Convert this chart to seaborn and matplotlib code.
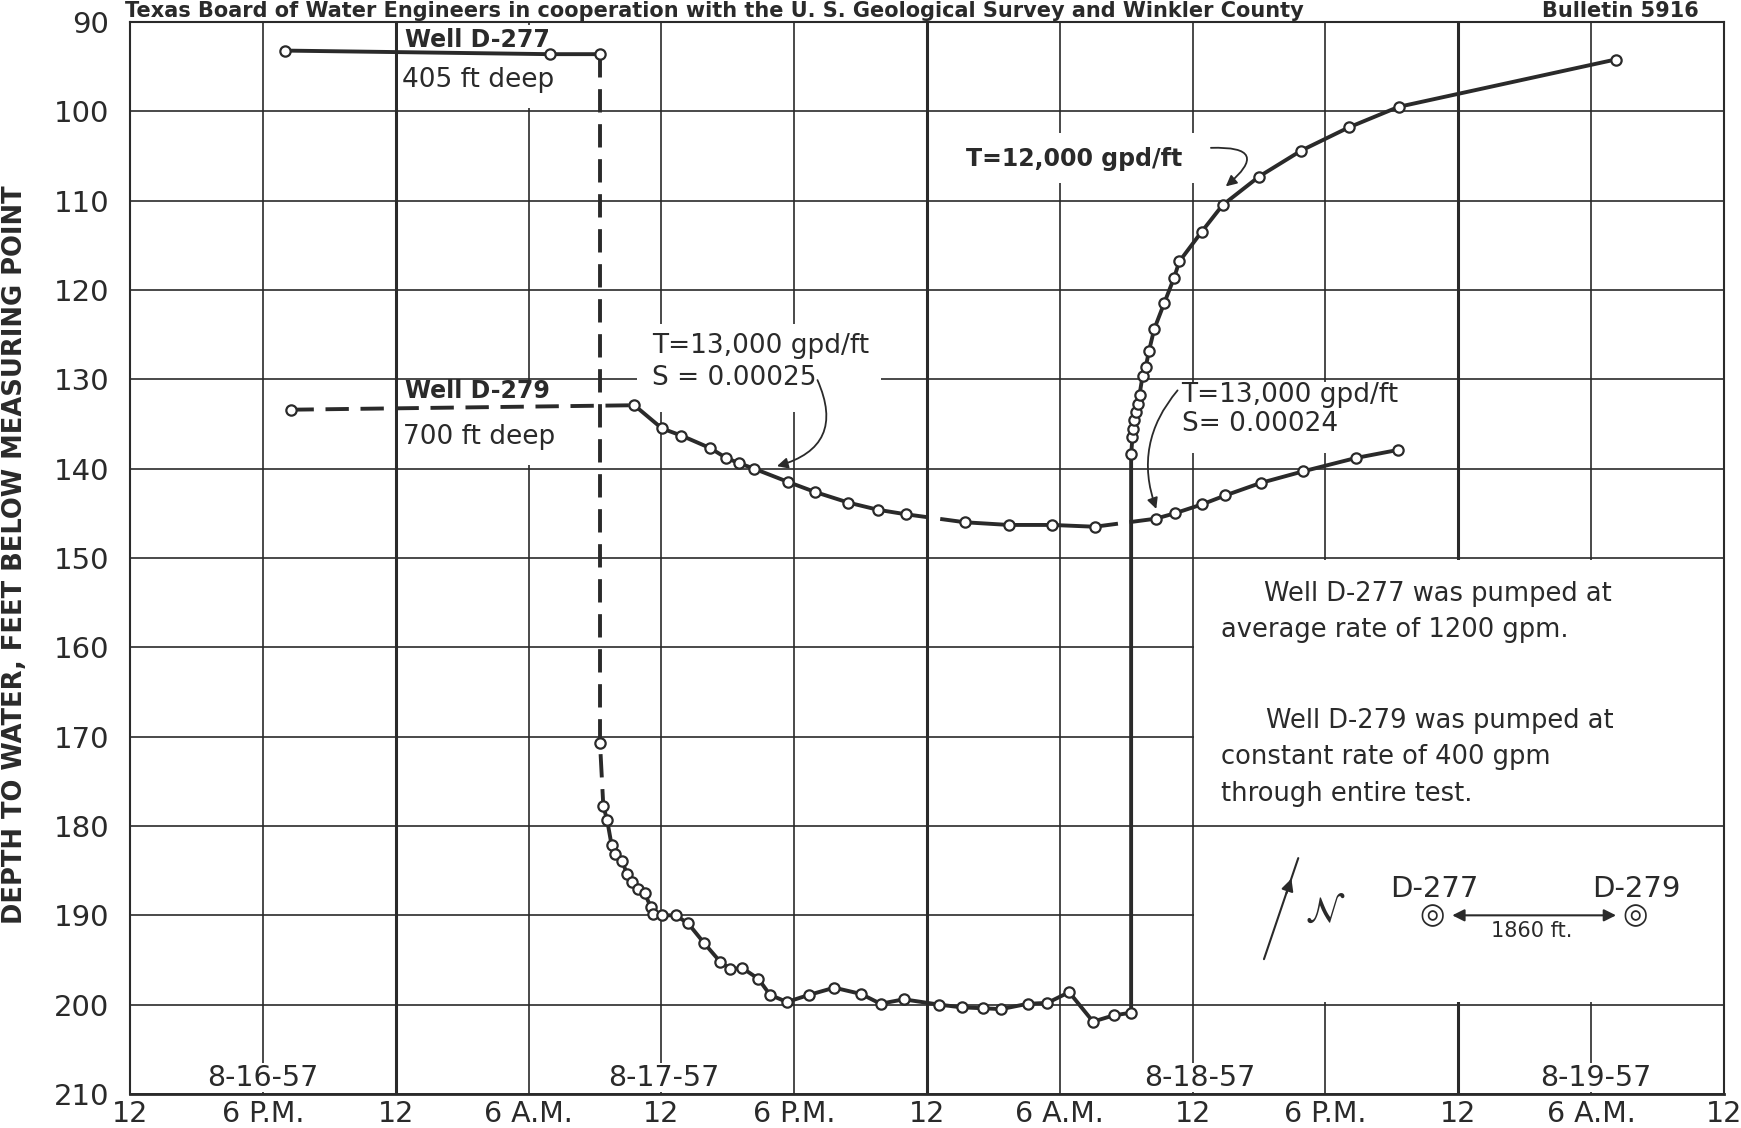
import numpy as np
import pandas as pd
import matplotlib
matplotlib.use("Agg")
import matplotlib.pyplot as plt
import seaborn as sns
from matplotlib.patches import Rectangle

# ---------------- data (hours after 12 noon, 8-16-57 ; depth in feet) ----------------
d277_t = [7.0, 18.95, 21.23, 21.23, 21.38, 21.55, 21.75, 21.89, 22.24, 22.44, 22.66, 22.95,
          23.24, 23.53, 23.63, 24.05, 24.64, 25.21, 25.93, 26.66, 27.11, 27.66, 28.38,
          28.91, 29.67, 30.68, 31.81, 33.02, 33.90, 34.95, 36.56, 37.56, 38.52, 39.35,
          40.55, 41.44, 42.42, 43.50, 44.43, 45.22,
          45.22, 45.28, 45.32, 45.36, 45.42, 45.52, 45.60, 45.74, 45.88, 46.03, 46.26,
          46.71, 47.15, 47.40, 48.40, 49.35, 51.0, 52.9, 55.05, 57.3, 67.1]
d277_depth = [93.2, 93.6, 93.6, 170.7, 177.8, 179.3, 182.1, 183.1, 183.9, 185.4, 186.3, 187.1,
              187.5, 189.1, 189.9, 190.0, 190.0, 190.9, 193.1, 195.2, 196.0, 195.9, 197.1,
              198.9, 199.7, 198.9, 198.1, 198.8, 199.9, 199.4, 200.0, 200.3, 200.4, 200.5,
              199.9, 199.8, 198.6, 201.9, 201.2, 200.9,
              138.4, 136.5, 135.6, 134.6, 133.7, 132.8, 131.7, 129.6, 128.6, 126.8, 124.4,
              121.5, 118.7, 116.8, 113.5, 110.5, 107.3, 104.4, 101.8, 99.5, 94.2]

d279_t = [7.25, 22.78, 24.03, 24.91, 26.21, 26.93, 27.53, 28.19, 29.74, 30.93, 32.45, 33.78,
          35.03, 37.71, 39.69, 41.64, 43.58, 46.33, 47.19, 48.42, 49.47, 51.07, 52.99,
          55.38, 57.28]
d279_depth = [133.4, 132.9, 135.5, 136.3, 137.7, 138.8, 139.4, 140.0, 141.5, 142.6, 143.8,
              144.6, 145.1, 146.0, 146.3, 146.3, 146.5, 145.6, 145.0, 144.0, 143.0, 141.6,
              140.3, 138.8, 137.9]

x_ticks = list(range(0, 73, 6))
x_tick_labels = ["12", "6 P.M.", "12", "6 A.M.", "12", "6 P.M.", "12", "6 A.M.",
                 "12", "6 P.M.", "12", "6 A.M.", "12"]
y_ticks = list(range(90, 211, 10))
date_labels = ["8-16-57", "8-17-57", "8-18-57", "8-19-57"]
date_label_t = [6.0, 24.1, 48.3, 66.2]

# ---------------- style ----------------
INK = "#2a2a2a"
sns.set_theme(style="white")
plt.rcParams["font.family"] = ["DejaVu Sans"]
plt.rcParams["text.color"] = INK

fig = plt.figure(figsize=(17.41, 11.28), dpi=100)
fig.patch.set_facecolor("white")
ax = fig.add_axes([130 / 1741, 34 / 1128, 1594 / 1741, 1072 / 1128])
ax.set_facecolor("white")

# grid
for t in x_ticks:
    lw = 2.2 if t in (12, 36, 60) else 1.2
    ax.axvline(t, color=INK, lw=lw, zorder=1)
for d in y_ticks:
    ax.axhline(d, color=INK, lw=1.2, zorder=1)

# blank areas (lettering backgrounds / notes panel)
blanks = [
    (48.08, 150.25, 72.0, 199.75),
    (12.12, 90.3, 19.6, 99.6),
    (12.12, 130.3, 19.6, 139.6),
    (22.9, 123.8, 33.9, 133.7),
    (37.5, 102.4, 49.3, 108.0),
    (46.6, 130.3, 57.6, 138.2),
]
for x0, y0, x1, y1 in blanks:
    ax.add_patch(Rectangle((x0, y0), x1 - x0, y1 - y0, facecolor="white",
                           edgecolor="none", zorder=2))
# bottom border of the notes panel
ax.hlines(180, 48, 72, color=INK, lw=1.2, zorder=3)


def draw_series(t, depth, dashed_segments):
    df = pd.DataFrame({"t": t, "depth": depth})
    n = len(df)
    runs = []
    start = 0
    style = 0 in dashed_segments
    for i in range(1, n - 1):
        s = i in dashed_segments
        if s != style:
            runs.append((start, i, style))
            start, style = i, s
    runs.append((start, n - 1, style))
    for a, b, dashed in runs:
        seg = df.iloc[a:b + 1]
        sns.lineplot(data=seg, x="t", y="depth", sort=False, estimator=None, ax=ax,
                     color=INK, lw=2.8, zorder=4,
                     linestyle=(0, (6, 3)) if dashed else "-")
    sns.scatterplot(data=df, x="t", y="depth", ax=ax, marker="o", s=55, color="white",
                    edgecolor=INK, linewidth=1.6, zorder=5, legend=False)


draw_series(d277_t, d277_depth, {2, 3})
draw_series(d279_t, d279_depth, {0, 12, 16})

ax.set_xlim(0, 72)
ax.set_ylim(210, 90)
ax.set_xticks(x_ticks)
ax.set_xticklabels(x_tick_labels, fontsize=20.5)
ax.set_yticks(y_ticks)
ax.set_yticklabels([str(v) for v in y_ticks], fontsize=21)
ax.tick_params(axis="x", length=0, pad=4, colors=INK)
ax.tick_params(axis="y", length=0, pad=15, colors=INK)
ax.set_xlabel("")
ax.set_ylabel("DEPTH TO WATER, FEET BELOW MEASURING POINT", fontsize=18.5,
              fontweight="bold", color=INK)
ax.yaxis.set_label_coords(-0.064, 0.503)
for side, sp in ax.spines.items():
    sp.set_visible(True)
    sp.set_color(INK)
    sp.set_linewidth(2.0 if side == "bottom" else 1.5)
    sp.set_zorder(3)

# date labels (white lettering background sits below the frame)
for lab, t in zip(date_labels, date_label_t):
    ax.text(t, 208.2, lab, ha="center", va="center", fontsize=20.5, zorder=2.2,
            bbox=dict(facecolor="white", edgecolor="none", pad=0.5))

# well labels
ax.text(12.4, 92.0, "Well D-277", ha="left", va="center", fontsize=17, fontweight="bold", zorder=6)
ax.text(12.3, 96.5, "405 ft deep", ha="left", va="center", fontsize=19, zorder=6)
ax.text(12.4, 131.3, "Well D-279", ha="left", va="center", fontsize=17, fontweight="bold", zorder=6)
ax.text(12.35, 136.4, "700 ft deep", ha="left", va="center", fontsize=19, zorder=6)

# transmissibility notes
ax.text(23.6, 126.3, "T=13,000 gpd/ft", ha="left", va="center", fontsize=19, zorder=6)
ax.text(23.6, 129.9, "S = 0.00025", ha="left", va="center", fontsize=19, zorder=6)
ax.text(47.5, 131.7, "T=13,000 gpd/ft", ha="left", va="center", fontsize=19, zorder=6)
ax.text(47.5, 135.0, "S= 0.00024", ha="left", va="center", fontsize=19, zorder=6)
ax.text(37.75, 105.3, "T=12,000 gpd/ft", ha="left", va="center", fontsize=17,
        fontweight="bold", zorder=6)

arrow_kw = dict(arrowstyle="-|>", color=INK, lw=1.3, mutation_scale=16)
ax.annotate("", xy=(29.1, 139.8), xytext=(31.0, 129.8),
            arrowprops=dict(connectionstyle="arc3,rad=-0.6", **arrow_kw), zorder=6)
ax.annotate("", xy=(49.4, 108.6), xytext=(48.7, 104.1),
            arrowprops=dict(connectionstyle="arc3,rad=-1.5", **arrow_kw), zorder=6)
ax.annotate("", xy=(46.4, 144.8), xytext=(47.4, 131.0),
            arrowprops=dict(connectionstyle="arc3,rad=0.3", **arrow_kw), zorder=6)

# pumping notes panel
notes = [(51.2, 154.0, "Well D-277 was pumped at"),
         (49.3, 158.1, "average rate of 1200 gpm."),
         (51.3, 168.3, "Well D-279 was pumped at"),
         (49.3, 172.3, "constant rate of 400 gpm"),
         (49.3, 176.4, "through entire test.")]
for t, d, s in notes:
    ax.text(t, d, s, ha="left", va="center", fontsize=18.5, zorder=6)

# north arrow
ax.annotate("", xy=(52.81, 183.3), xytext=(51.18, 195.2),
            arrowprops=dict(arrowstyle="-", color=INK, lw=1.5), zorder=6)
ax.annotate("", xy=(52.5, 185.6), xytext=(52.2, 187.8),
            arrowprops=dict(arrowstyle="-|>", color=INK, lw=1.5, mutation_scale=18), zorder=6)
ax.text(54.0, 189.6, r"$\mathcal{N}$", ha="center", va="center", fontsize=26, zorder=6)

# well location sketch
ax.text(58.9, 187.0, "D-277", ha="center", va="center", fontsize=21, zorder=6)
ax.text(68.05, 187.0, "D-279", ha="center", va="center", fontsize=21, zorder=6)
ax.text(58.83, 190.0, "◎", ha="center", va="center", fontsize=21, fontweight="bold", zorder=6)
ax.text(68.0, 190.0, "◎", ha="center", va="center", fontsize=21, fontweight="bold", zorder=6)
ax.annotate("", xy=(59.6, 190.0), xytext=(67.25, 190.0),
            arrowprops=dict(arrowstyle="<|-|>", color=INK, lw=1.5, mutation_scale=18), zorder=6)
ax.text(63.3, 191.8, "1860 ft.", ha="center", va="center", fontsize=15, zorder=6)

# header lines
fig.text(125 / 1741, 0.999, "Texas Board of Water Engineers in cooperation with the U. S. "
         "Geological Survey and Winkler County", ha="left", va="top", fontsize=15,
         fontweight="bold", color=INK)
fig.text(1699 / 1741, 0.999, "Bulletin 5916", ha="right", va="top", fontsize=15,
         fontweight="bold", color=INK)

fig.savefig("out.png", dpi=100)
